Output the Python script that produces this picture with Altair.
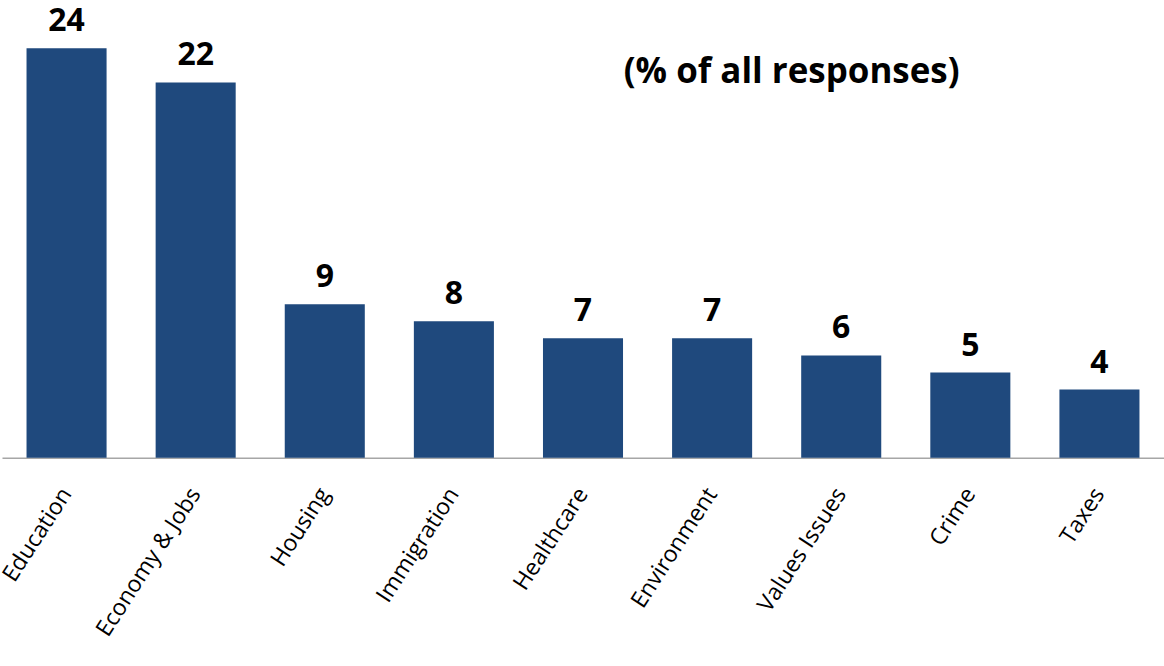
import altair as alt
import pandas as pd

categories = ["Education", "Economy & Jobs", "Housing", "Immigration", "Healthcare",
              "Environment", "Values Issues", "Crime", "Taxes"]
values = [24, 22, 9, 8, 7, 7, 6, 5, 4]
title_text = "(% of all responses)"

df = pd.DataFrame({"cat": categories, "val": values})

x = alt.X("cat:N", sort=categories, title=None,
          scale=alt.Scale(paddingInner=0.38, paddingOuter=0.19),
          axis=alt.Axis(labelAngle=-57, labelAlign="right", labelBaseline="middle",
                        labelFont="Open Sans", labelFontSize=23, labelColor="#000000",
                        labelPadding=32, ticks=False, domainColor="#A6A6A6",
                        domainWidth=1.5, labelLimit=400))
y = alt.Y("val:Q", title=None, scale=alt.Scale(domain=[0, 26.8], nice=False),
          axis=None)

bars = alt.Chart(df).mark_bar(color="#1F497D").encode(x=x, y=y)
labels = alt.Chart(df).mark_text(font="Open Sans", fontSize=32, fontWeight="bold",
                                 baseline="alphabetic", dy=-17, color="#000000").encode(
    x=alt.X("cat:N", sort=categories), y="val:Q", text="val:Q")
title = alt.Chart(pd.DataFrame({"t": [title_text]})).mark_text(
    font="Open Sans", fontSize=35, fontWeight="bold", align="center", baseline="middle",
    color="#000000").encode(x=alt.value(791), y=alt.value(72), text="t:N")

chart = alt.layer(bars, labels, title).properties(
    width=1164, height=458,
    autosize=alt.AutoSizeParams(type="none"),
    padding={"left": 2, "top": 0, "right": 0, "bottom": 208},
).configure(background="#FFFFFF").configure_view(stroke=None)

chart.save("out.html", embed_options={"renderer": "svg", "actions": False})
